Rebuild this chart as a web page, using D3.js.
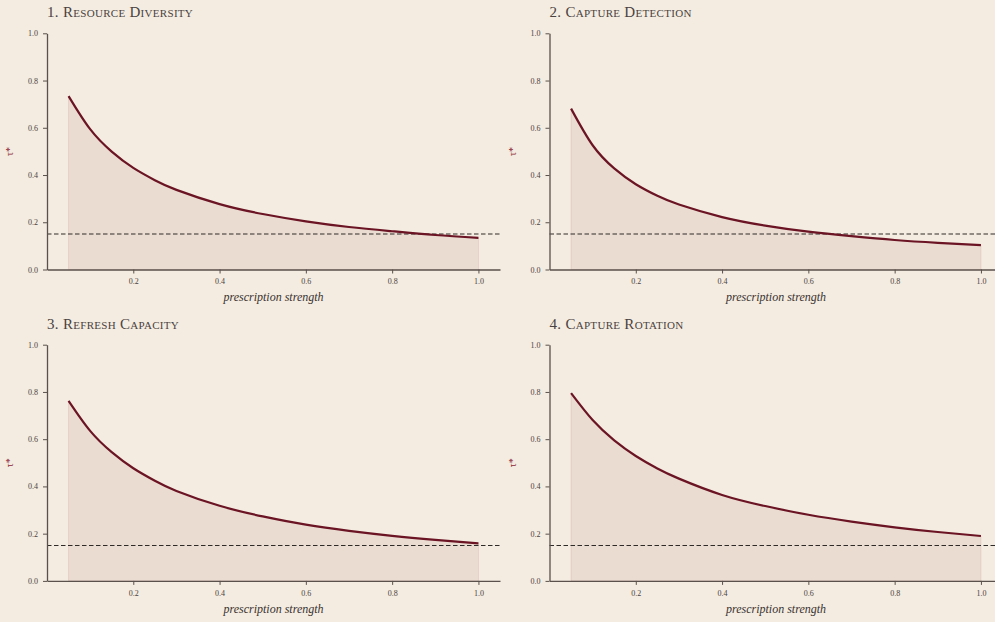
<!DOCTYPE html>
<html>
<head>
<meta charset="utf-8">
<script src="https://cdn.jsdelivr.net/npm/d3@7"></script>
<style>
  html, body { margin: 0; padding: 0; background: #f4ece0; overflow: hidden; }
  svg { display: block; }
  .title { font-family: "Liberation Serif", "DejaVu Serif", serif; font-variant: small-caps; font-size: 15px; fill: #4a4240; letter-spacing: 0.3px; }
  .tick text { font-family: "Liberation Serif", serif; font-size: 8px; fill: #4a4240; }
  .xlab { font-family: "Liberation Serif", serif; font-style: italic; font-size: 12px; fill: #3a3230; }
  .ylab { font-family: "Liberation Serif", serif; font-size: 10px; fill: #8b2535; }
</style>
</head>
<body>
<div id="chart"></div>
<script>
// panel titles
var titles = ["1. Resource Diversity", "2. Capture Detection", "3. Refresh Capacity", "4. Capture Rotation"];

// prescription strength sample points (x)
var strength = [0.05, 0.1, 0.15, 0.2, 0.25, 0.3, 0.4, 0.5, 0.6, 0.7, 0.8, 0.9, 1.0];

// tau*
var tauResource = [0.734, 0.594, 0.499, 0.430, 0.378, 0.337, 0.277, 0.235, 0.204, 0.180, 0.162, 0.146, 0.134];
var tauDetection = [0.681, 0.526, 0.428, 0.361, 0.312, 0.275, 0.222, 0.186, 0.160, 0.141, 0.125, 0.113, 0.103];
var tauRefresh = [0.762, 0.635, 0.545, 0.477, 0.424, 0.381, 0.318, 0.273, 0.238, 0.212, 0.191, 0.174, 0.159];
var tauRotation = [0.795, 0.681, 0.595, 0.529, 0.476, 0.433, 0.364, 0.317, 0.280, 0.251, 0.227, 0.207, 0.190];

var threshold = 0.15;
var xTicks = [0.2, 0.4, 0.6, 0.8, 1.0];
var yTicks = [0.0, 0.2, 0.4, 0.6, 0.8, 1.0];

var series = [tauResource, tauDetection, tauRefresh, tauRotation];

var W = 995, H = 622;
var svg = d3.select("#chart").append("svg").attr("width", W).attr("height", H);
svg.append("rect").attr("width", W).attr("height", H).attr("fill", "#f4ece0");

// panel origins (left of y axis, top of y range)
var origins = [[47, 33.3], [549.5, 33.3], [47, 344.7], [549.5, 344.7]];
var pw = 453, ph = 236.2;

var lineColor = "#6b1424";
var axisColor = "#5a514c";

for (var p = 0; p < 4; p++) {
    var ox = origins[p][0], oy = origins[p][1];
    var g = svg.append("g").attr("transform", "translate(" + ox + "," + oy + ")");

    var x = d3.scaleLinear().domain([0, 1.05]).range([0, pw]);
    var y = d3.scaleLinear().domain([0, 1]).range([ph, 0]);

    var pts = strength.map(function(s, i) { return [s, series[p][i]]; });

    // shaded area under the curve
    var area = d3.area()
        .x(function(d) { return x(d[0]); })
        .y0(y(0))
        .y1(function(d) { return y(d[1]); })
        .curve(d3.curveNatural);
    g.append("path").datum(pts).attr("d", area)
        .attr("fill", "#8b3a3a").attr("fill-opacity", 0.085)
        .attr("stroke", "#b06060").attr("stroke-opacity", 0.15).attr("stroke-width", 1);

    // threshold
    g.append("line")
        .attr("x1", x(0)).attr("x2", x(1.05))
        .attr("y1", y(threshold)).attr("y2", y(threshold))
        .attr("stroke", "#2e2a28").attr("stroke-width", 1.1)
        .attr("stroke-dasharray", "4.5,2.5");

    // curve
    var line = d3.line()
        .x(function(d) { return x(d[0]); })
        .y(function(d) { return y(d[1]); })
        .curve(d3.curveNatural);
    g.append("path").datum(pts).attr("d", line)
        .attr("fill", "none").attr("stroke", lineColor).attr("stroke-width", 2.2);

    // axes
    var xAxis = d3.axisBottom(x).tickValues(xTicks).tickSize(4).tickSizeOuter(0)
        .tickFormat(d3.format(".1f")).tickPadding(5);
    var xg = g.append("g").attr("transform", "translate(0," + ph + ")").call(xAxis);
    var yAxis = d3.axisLeft(y).tickValues(yTicks).tickSize(4).tickSizeOuter(0)
        .tickFormat(d3.format(".1f")).tickPadding(5);
    var yg = g.append("g").call(yAxis);
    [xg, yg].forEach(function(a) {
        a.select(".domain").attr("stroke", axisColor).attr("stroke-width", 1.3);
        a.selectAll(".tick line").attr("stroke", axisColor).attr("stroke-width", 1);
    });

    // labels
    g.append("text").attr("class", "title").attr("x", 0).attr("y", -16).text(titles[p]);
    g.append("text").attr("class", "xlab").attr("text-anchor", "middle")
        .attr("x", pw / 2).attr("y", ph + 32).text("prescription strength");
    g.append("text").attr("class", "ylab").attr("text-anchor", "middle")
        .attr("transform", "translate(-34," + (ph / 2) + ") rotate(-90)")
        .text("τ*");
}
</script>
</body>
</html>
